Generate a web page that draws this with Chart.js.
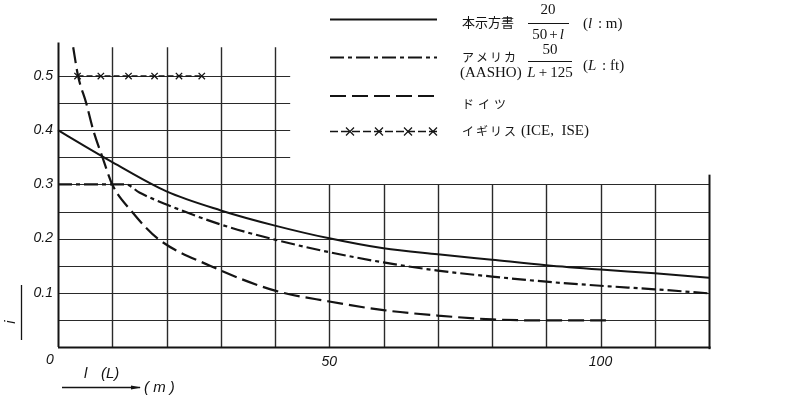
<!DOCTYPE html>
<html>
<head>
<meta charset="utf-8">
<script src="https://cdn.jsdelivr.net/npm/chart.js@4.4.1/dist/chart.umd.min.js"></script>
<style>
  html, body { margin: 0; padding: 0; background: #fff; }
  #wrap { width: 787px; height: 397px; position: relative; }
</style>
</head>
<body>
<div id="wrap"><canvas id="chart" width="787" height="397"></canvas></div>
<script>
// Impact coefficient i against span length l (m), four design codes.

// 本示方書  i = 20 / (50 + l)
const spanJapan   = [0, 5, 10, 20, 30, 40, 50, 60, 70, 80, 90, 100, 110, 120];
const impactJapan = [0.400, 0.370, 0.341, 0.287, 0.252, 0.224, 0.2005, 0.182, 0.171, 0.161, 0.151, 0.143, 0.136, 0.128];

// アメリカ (AASHO)  i = 50 / (L + 125), capped at 0.3
const spanUSA   = [0, 12.5, 15, 20, 30, 40, 50, 60, 70, 80, 90, 100, 110, 120];
const impactUSA = [0.300, 0.300, 0.285, 0.263, 0.226, 0.198, 0.175, 0.156, 0.141, 0.130, 0.1205, 0.113, 0.1065, 0.099];

// ドイツ
const spanGermany   = [2.8, 3.7, 5.2, 6.5, 8.2, 10, 13.6, 18.4, 28, 40, 50, 60, 70, 80, 90, 101];
const impactGermany = [0.553, 0.500, 0.450, 0.400, 0.350, 0.300, 0.250, 0.200, 0.150, 0.104, 0.084, 0.068, 0.058, 0.051, 0.049, 0.049];

// イギリス (ICE, ISE)
const spanUK   = [3.6, 7.9, 13.0, 17.8, 22.3, 26.5];
const impactUK = [0.5, 0.5, 0.5, 0.5, 0.5, 0.5];

// Tick labels
const yTickValues = [0.1, 0.2, 0.3, 0.4, 0.5];
const yTickLabels = ['0.1', '0.2', '0.3', '0.4', '0.5'];
const xTickValues = [0, 50, 100];
const xTickLabels = ['0', '50', '100'];

const toPoints = (xs, ys) => xs.map((x, i) => ({ x: x, y: ys[i] }));

const INK = '#141414';
const GRID = '#2a2a2a';
const tickFont = 'italic 14px "Liberation Sans", Arial, sans-serif';
const serif = '"Liberation Serif", "Times New Roman", serif';
const cjk = '"Noto Sans CJK JP", sans-serif';

// Drawing helpers
function drawRuns(ctx, runs, x, y, align) {
  let total = 0;
  runs.forEach(r => { ctx.font = r[1]; total += ctx.measureText(r[0]).width + (r[2] || 0); });
  let cx = align === 'center' ? x - total / 2 : x;
  ctx.textAlign = 'left';
  ctx.textBaseline = 'middle';
  runs.forEach(r => {
    ctx.font = r[1];
    ctx.fillText(r[0], cx, y);
    cx += ctx.measureText(r[0]).width + (r[2] || 0);
  });
}
function drawSpaced(ctx, text, font, x, y, step) {
  ctx.font = font;
  ctx.textAlign = 'left';
  ctx.textBaseline = 'middle';
  [...text].forEach((ch, i) => ctx.fillText(ch, x + i * step, y));
}
function drawCross(ctx, x, y, r) {
  ctx.beginPath();
  ctx.moveTo(x - r, y - r); ctx.lineTo(x + r, y + r);
  ctx.moveTo(x - r, y + r); ctx.lineTo(x + r, y - r);
  ctx.stroke();
}

// L-shaped grid: full width up to 0.3, upper part only over the short spans
const gridPlugin = {
  id: 'lGrid',
  beforeDatasetsDraw(chart) {
    const { ctx, scales: { x, y } } = chart;
    ctx.save();
    ctx.strokeStyle = GRID;
    ctx.lineWidth = 1.1;
    const hLine = (v, x0, x1) => {
      const py = Math.round(y.getPixelForValue(v)) + 0.5;
      ctx.beginPath(); ctx.moveTo(x.getPixelForValue(x0), py); ctx.lineTo(x.getPixelForValue(x1), py); ctx.stroke();
    };
    const vLine = (v, y0, y1) => {
      const px = Math.round(x.getPixelForValue(v)) + 0.5;
      ctx.beginPath(); ctx.moveTo(px, y.getPixelForValue(y0)); ctx.lineTo(px, y.getPixelForValue(y1)); ctx.stroke();
    };
    for (let k = 1; k <= 6; k++) hLine(k * 0.05, 0, 120);
    for (let k = 7; k <= 10; k++) hLine(k * 0.05, 0, 42.8);
    ctx.lineWidth = 1.4;
    for (let k = 1; k <= 4; k++) vLine(k * 10, 0, 0.553);
    for (let k = 5; k <= 11; k++) vLine(k * 10, 0, 0.3);
    // axes and right border
    ctx.strokeStyle = INK;
    ctx.lineWidth = 2;
    vLine(0, 0, 0.562);
    vLine(120, -0.004, 0.318);
    hLine(0, 0, 120.3);
    ctx.restore();
  },
  afterDraw(chart) {
    const { ctx, scales: { x, y } } = chart;
    ctx.save();
    ctx.fillStyle = INK;
    ctx.strokeStyle = INK;

    // tick labels
    ctx.font = tickFont;
    ctx.textAlign = 'right';
    ctx.textBaseline = 'middle';
    yTickValues.forEach((v, i) => ctx.fillText(yTickLabels[i], x.left - 5, y.getPixelForValue(v)));
    ctx.textAlign = 'center';
    xTickValues.forEach((v, i) => {
      const px = v === 0 ? x.getPixelForValue(v) - 8 : x.getPixelForValue(v);
      ctx.fillText(xTickLabels[i], px, y.bottom + (v === 0 ? 13 : 15));
    });

    // axis titles
    ctx.save();
    ctx.translate(11, 322);
    ctx.rotate(-Math.PI / 2);
    ctx.font = 'italic 15px "Liberation Sans", Arial, sans-serif';
    ctx.textAlign = 'center';
    ctx.fillText('i', 0, 0);
    ctx.restore();
    ctx.lineWidth = 1.3;
    ctx.beginPath(); ctx.moveTo(21.5, 285); ctx.lineTo(21.5, 340); ctx.stroke();

    ctx.font = 'italic 15px "Liberation Sans", Arial, sans-serif';
    ctx.textAlign = 'left';
    ctx.fillText('l', 84, 374);
    ctx.fillText('(L)', 101, 374);
    ctx.fillText('( m )', 144, 388);
    ctx.lineWidth = 1.3;
    ctx.beginPath(); ctx.moveTo(62, 387.5); ctx.lineTo(140, 387.5); ctx.stroke();
    ctx.beginPath(); ctx.moveTo(141, 387.5); ctx.lineTo(131, 385.5); ctx.lineTo(131, 389.5); ctx.closePath(); ctx.fill();

    // legend samples
    const lx0 = 330, lx1 = 437;
    const sample = (yy, dash, w) => {
      ctx.setLineDash(dash); ctx.lineWidth = w;
      ctx.beginPath(); ctx.moveTo(lx0, yy); ctx.lineTo(lx1, yy); ctx.stroke();
    };
    sample(19.5, [], 2);
    sample(57.5, [14, 4, 4, 4], 2);
    sample(96, [16, 6], 2);
    sample(131.5, [8, 3], 1.6);
    ctx.setLineDash([]);
    ctx.lineWidth = 1.2;
    [350, 379, 408, 433].forEach(px => drawCross(ctx, px, 131.5, 4));

    // legend labels
    drawSpaced(ctx, '本示方書', '13px ' + cjk, 462, 22, 13);
    drawSpaced(ctx, 'アメリカ', '12px ' + cjk, 462, 57, 14);
    ctx.font = '15px ' + serif; ctx.textAlign = 'left';
    ctx.fillText('(AASHO)', 460, 73);
    drawSpaced(ctx, 'ドイツ', '12px ' + cjk, 462, 104, 16);
    drawSpaced(ctx, 'イギリス', '12px ' + cjk, 462, 131, 14);
    ctx.font = '15px ' + serif; ctx.textAlign = 'left';
    ctx.fillText('(ICE,  ISE)', 521, 131);

    // formulas
    const sf = '15px ' + serif, si = 'italic 15px ' + serif;
    drawRuns(ctx, [['20', sf]], 548, 10, 'center');
    ctx.lineWidth = 1;
    ctx.beginPath(); ctx.moveTo(528, 23.5); ctx.lineTo(569, 23.5); ctx.stroke();
    drawRuns(ctx, [['50', sf, 2], ['+', sf, 2], ['l', si]], 548, 35, 'center');
    drawRuns(ctx, [['(', sf], ['l', si, 2], [' : ', sf], ['m)', sf]], 583, 24, 'left');

    drawRuns(ctx, [['50', sf]], 550, 50, 'center');
    ctx.beginPath(); ctx.moveTo(528, 61.5); ctx.lineTo(572, 61.5); ctx.stroke();
    drawRuns(ctx, [['L', si, 3], ['+', sf, 3], ['125', sf]], 550, 73, 'center');
    drawRuns(ctx, [['(', sf], ['L', si, 2], [' : ', sf], ['ft)', sf]], 583, 66, 'left');

    ctx.restore();
  }
};

const lineDefaults = {
  showLine: true,
  pointRadius: 0,
  borderColor: INK,
  cubicInterpolationMode: 'monotone',
  clip: false
};

new Chart(document.getElementById('chart'), {
  type: 'scatter',
  data: {
    datasets: [
      Object.assign({}, lineDefaults, {
        label: '本示方書',
        data: toPoints(spanJapan, impactJapan),
        borderWidth: 2
      }),
      Object.assign({}, lineDefaults, {
        label: 'アメリカ (AASHO)',
        data: toPoints(spanUSA, impactUSA),
        borderWidth: 2.2,
        borderDash: [14, 4, 4, 4]
      }),
      Object.assign({}, lineDefaults, {
        label: 'ドイツ',
        data: toPoints(spanGermany, impactGermany),
        borderWidth: 2.2,
        borderDash: [16, 6]
      }),
      {
        label: 'イギリス (ICE, ISE)',
        data: toPoints(spanUK, impactUK),
        showLine: true,
        borderColor: INK,
        borderWidth: 1.6,
        borderDash: [6, 3],
        pointStyle: 'crossRot',
        pointRadius: 4.5,
        pointBorderWidth: 1.3,
        pointBorderColor: INK,
        clip: false
      }
    ]
  },
  options: {
    responsive: false,
    devicePixelRatio: 1,
    animation: false,
    layout: { padding: { left: 58, right: 78, top: 43.5, bottom: 50 } },
    plugins: { legend: { display: false }, tooltip: { enabled: false } },
    scales: {
      x: { type: 'linear', min: 0, max: 120, display: false },
      y: { type: 'linear', min: 0, max: 0.56, display: false }
    }
  },
  plugins: [gridPlugin]
});
</script>
</body>
</html>
